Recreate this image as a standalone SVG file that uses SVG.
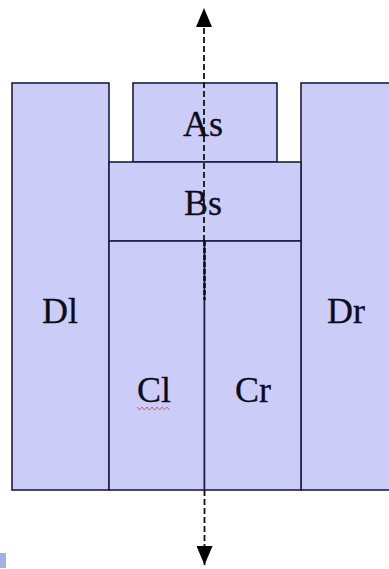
<svg xmlns="http://www.w3.org/2000/svg" width="389" height="569" viewBox="0 0 389 569">
<style>
.box{fill:#ccccf8;stroke:#1c1c44;stroke-width:1.6}
.lbl{font-family:"Liberation Serif","Times New Roman",serif;font-size:36px;fill:#0c0c1c;stroke:#0c0c1c;stroke-width:0.3;text-anchor:middle}
.dash{stroke:#111;stroke-width:1.8;stroke-dasharray:6 3;fill:none}
</style>
<defs>
<marker id="ah" viewBox="0 0 19 16" refX="19" refY="8" markerWidth="19" markerHeight="16" markerUnits="userSpaceOnUse" orient="auto">
<path d="M0,0 L19,8 L0,16 Z" fill="#000"/>
</marker>
</defs>
<rect width="389" height="569" fill="#fff"/>
<g id="Dl"><rect class="box" x="12" y="83" width="97" height="407"/><text class="lbl" x="60" y="323">Dl</text></g>
<g id="Dr"><rect class="box" x="301" y="83" width="100" height="407"/><text class="lbl" x="346" y="323">Dr</text></g>
<g id="As"><rect class="box" x="133" y="83" width="144" height="79"/><text class="lbl" x="203" y="136">As</text></g>
<g id="Bs"><rect class="box" x="109" y="162" width="192" height="79"/><text class="lbl" x="203" y="215">Bs</text></g>
<g id="Cl"><rect class="box" x="109" y="241" width="95.5" height="249"/><text class="lbl" x="154" y="402">Cl</text>
<path d="M137,407 l2.5,3 l2.5,-3 l2.5,3 l2.5,-3 l2.5,3 l2.5,-3 l2.5,3 l2.5,-3 l2.5,3 l2.5,-3 l2.5,3 l2.5,-3 l2.5,3" fill="none" stroke="#e04050" stroke-width="1" opacity="0.8"/></g>
<g id="Cr"><rect class="box" x="204.5" y="241" width="96.5" height="249"/><text class="lbl" x="253" y="402">Cr</text></g>
<g id="connectors">
<line class="dash" x1="204" y1="241" x2="204" y2="8" marker-end="url(#ah)"/>
<line x1="204.5" y1="241" x2="204.5" y2="300" stroke="#111" stroke-width="2.6" stroke-dasharray="5 2"/>
<line class="dash" x1="204.5" y1="490" x2="204.5" y2="565" marker-end="url(#ah)"/>
</g>
<rect x="0" y="553" width="6" height="15" fill="#a8b0e0"/>
</svg>
